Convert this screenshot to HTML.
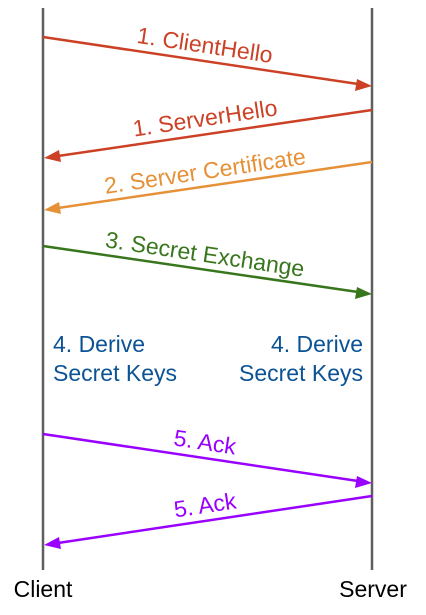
<!DOCTYPE html>
<html><head><style>html,body{margin:0;padding:0;background:#fff}svg{display:block}</style></head>
<body>
<svg width="426" height="615" xmlns="http://www.w3.org/2000/svg" font-family="Liberation Sans, sans-serif" font-size="23">
<line x1="43" y1="8" x2="43" y2="570" stroke="#5f5f5f" stroke-width="2.5"/>
<line x1="372" y1="8" x2="372" y2="570" stroke="#5f5f5f" stroke-width="2.5"/>
<g stroke-width="2.5">
<line x1="43" y1="37" x2="358" y2="84" stroke="#cc4125"/>
<polygon points="372,86 355,91 357,79" fill="#cc4125"/>
<line x1="372" y1="110" x2="58" y2="156" stroke="#cc4125"/>
<polygon points="44,158 59,150 61,162" fill="#cc4125"/>
<line x1="372" y1="162" x2="58" y2="208" stroke="#e69138"/>
<polygon points="44,210 59,202 61,214" fill="#e69138"/>
<line x1="43" y1="246" x2="358" y2="292" stroke="#38761d"/>
<polygon points="372,294 355,299 357,287" fill="#38761d"/>
<line x1="43" y1="434" x2="358" y2="481" stroke="#9900ff"/>
<polygon points="372,483 355,488 357,476" fill="#9900ff"/>
<line x1="372" y1="496" x2="58" y2="543" stroke="#9900ff"/>
<polygon points="44,545 59,537 61,549" fill="#9900ff"/>
</g>
<text x="205" y="53" text-anchor="middle" fill="#cc4125" transform="rotate(8.5 205 45)">1. ClientHello</text>
<text x="205" y="126" text-anchor="middle" fill="#cc4125" transform="rotate(-8.5 205 118)">1. ServerHello</text>
<text x="205" y="179" text-anchor="middle" fill="#e69138" transform="rotate(-8.5 205 171)">2. Server Certificate</text>
<text x="205" y="262" text-anchor="middle" fill="#38761d" transform="rotate(8.5 205 254)">3. Secret Exchange</text>
<text x="205" y="450" text-anchor="middle" fill="#9900ff" transform="rotate(8.5 205 442)">5. Ack</text>
<text x="205" y="513" text-anchor="middle" fill="#9900ff" transform="rotate(-8.5 205 505)">5. Ack</text>
<g fill="#0b5394">
<text x="53" y="352">4. Derive</text>
<text x="53" y="381">Secret Keys</text>
<text x="363" y="352" text-anchor="end">4. Derive</text>
<text x="363" y="381" text-anchor="end">Secret Keys</text>
</g>
<text x="43" y="597" text-anchor="middle" fill="#000">Client</text>
<text x="373" y="597" text-anchor="middle" fill="#000">Server</text>
</svg>
</body></html>
